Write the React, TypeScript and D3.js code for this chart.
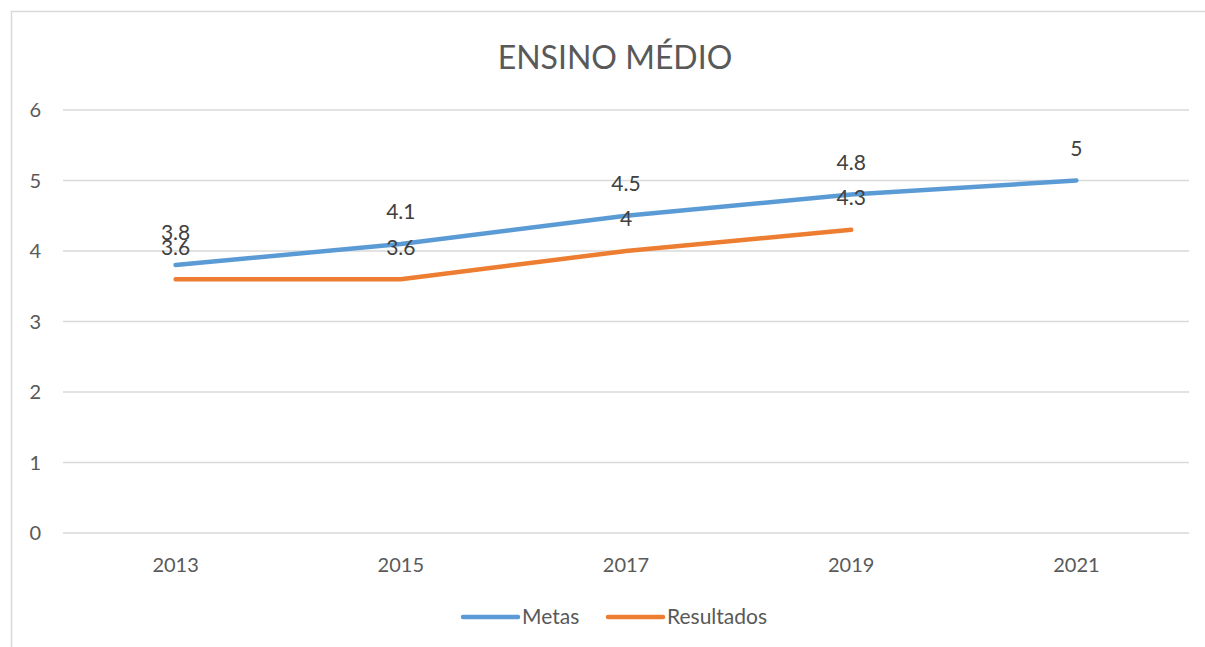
import React from "react";
import * as d3 from "d3";

const years = ["2013", "2015", "2017", "2019", "2021"];
const metas = [3.8, 4.1, 4.5, 4.8, 5];
const resultados = [3.6, 3.6, 4, 4.3];
const yTicks = [0, 1, 2, 3, 4, 5, 6];

const W = 1205;
const H = 647;
const FONT = "Lato, 'Open Sans', sans-serif";
const TEXT = "#595959";

const App: React.FC = () => {
	const x = d3.scalePoint<string>().domain(years).range([63, 1189]).padding(0.5);
	const y = d3.scaleLinear().domain([0, 6]).range([533, 110]);

	const line = d3
		.line<number>()
		.x((_, i) => x(years[i]) as number)
		.y((d) => y(d));

	const series = [
		{ name: "Metas", values: metas, color: "#5B9BD5" },
		{ name: "Resultados", values: resultados, color: "#ED7D31" },
	];

	return (
		<svg width={W} height={H} style={{ display: "block", position: "absolute", left: 0, top: 0 }}>
			<rect x={0} y={0} width={W} height={H} fill="#fff" />
			<path d={`M11.5,${H} V11.5 H${W}`} fill="none" stroke="#D9D9D9" strokeWidth={1.5} />
			<text x={615} y={69} textAnchor="middle" fontFamily={FONT} fontSize={32} fill={TEXT}>
				ENSINO MÉDIO
			</text>
			{yTicks.map((t) => (
				<g key={t}>
					<line x1={63} x2={1189} y1={y(t)} y2={y(t)} stroke="#D9D9D9" strokeWidth={1.5} />
					<text x={41} y={y(t)} dy="0.35em" textAnchor="end" fontFamily={FONT} fontSize={20} fill={TEXT}>
						{t}
					</text>
				</g>
			))}
			{years.map((yr) => (
				<text key={yr} x={x(yr)} y={572} textAnchor="middle" fontFamily={FONT} fontSize={20} fill={TEXT}>
					{yr}
				</text>
			))}
			{series.map((s) => (
				<path
					key={s.name}
					d={line(s.values) || ""}
					fill="none"
					stroke={s.color}
					strokeWidth={4.5}
					strokeLinecap="round"
					strokeLinejoin="round"
				/>
			))}
			{series.map((s) =>
				s.values.map((v, i) => (
					<text
						key={s.name + i}
						x={x(years[i])}
						y={y(v) - 32}
						dy="0.35em"
						textAnchor="middle"
						fontFamily={FONT}
						fontSize={21}
						fill="#404040"
					>
						{v}
					</text>
				))
			)}
			{series.map((s, i) => {
				const lx = [463, 608][i];
				return (
					<g key={s.name}>
						<line x1={lx} x2={lx + 55} y1={617} y2={617} stroke={s.color} strokeWidth={4.5} strokeLinecap="round" />
						<text x={lx + 59} y={617} dy="0.35em" fontFamily={FONT} fontSize={21} fill={TEXT}>
							{s.name}
						</text>
					</g>
				);
			})}
		</svg>
	);
};

export default App;
